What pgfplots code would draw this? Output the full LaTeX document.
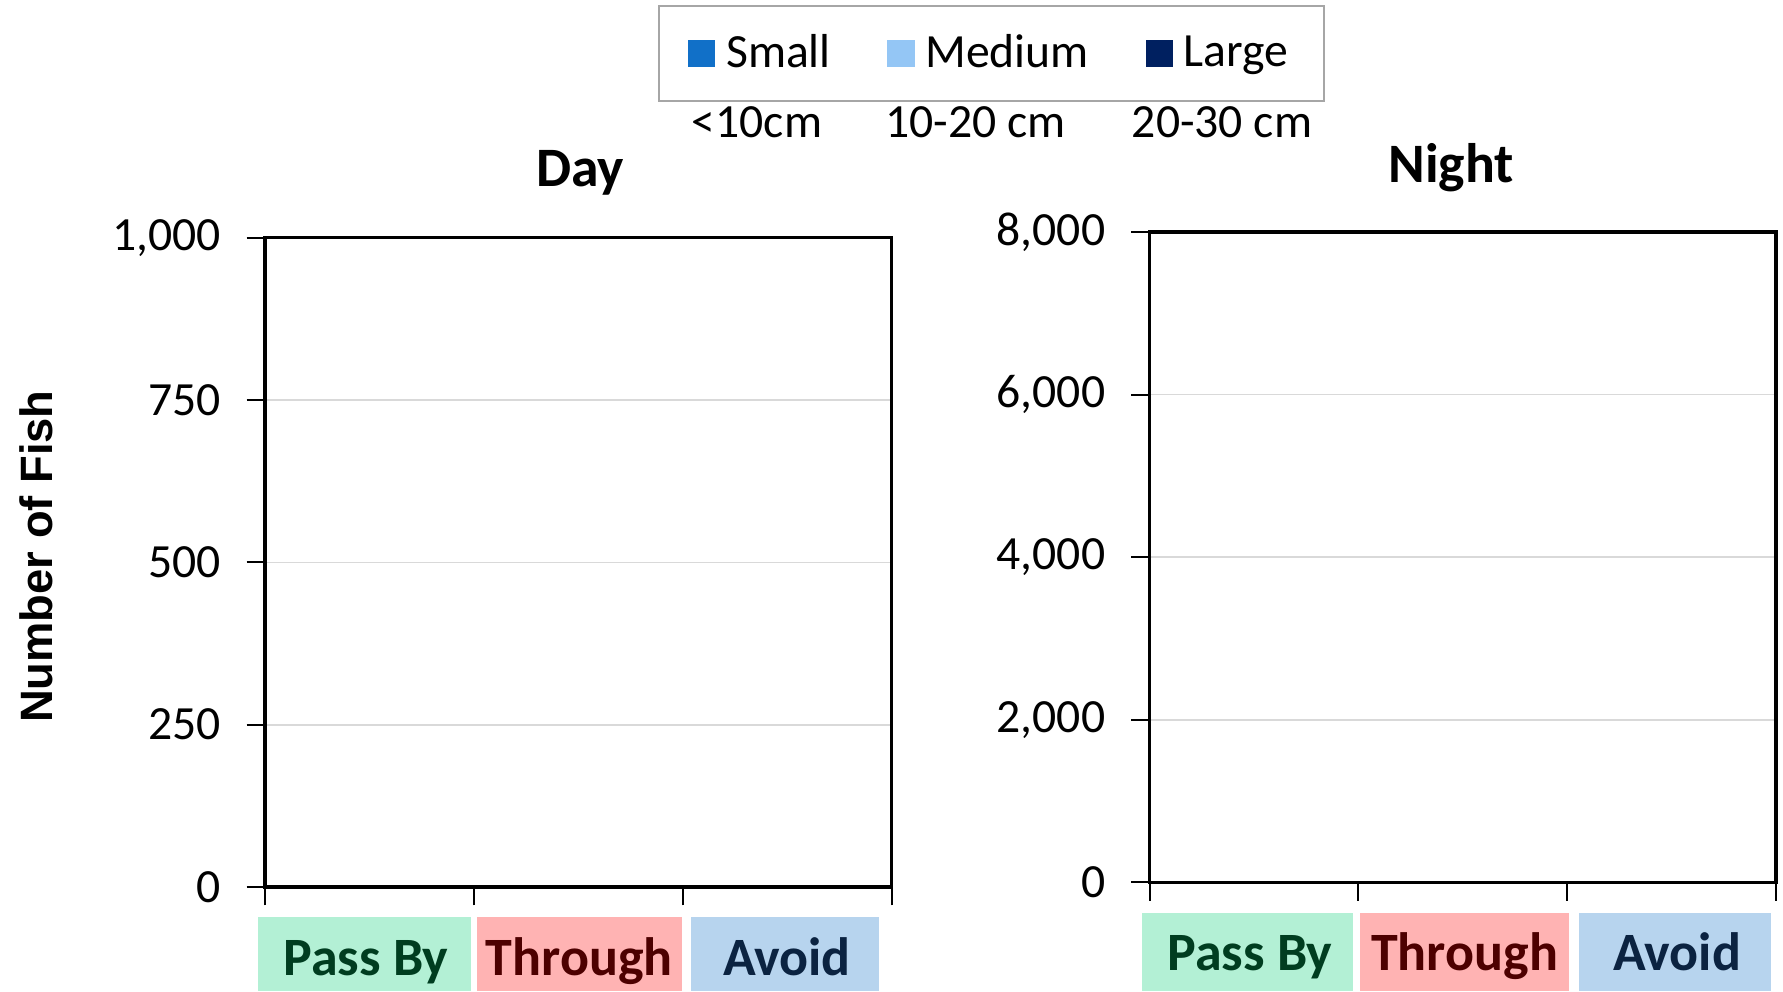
\documentclass[border=0pt]{standalone}
\usepackage{fontspec}
\setmainfont{Carlito}
\newfontfamily\arialfont{Liberation Sans}
\usepackage{pgfplots}
\pgfplotsset{compat=1.18}
\definecolor{smallc}{HTML}{1170C8}
\definecolor{mediumc}{HTML}{94C6F5}
\definecolor{largec}{HTML}{002060}
\definecolor{passbox}{HTML}{B3F0D5}
\definecolor{passtxt}{HTML}{003D20}
\definecolor{thrbox}{HTML}{FFB3B3}
\definecolor{thrtxt}{HTML}{4D0000}
\definecolor{avbox}{HTML}{B7D4EE}
\definecolor{avtxt}{HTML}{0B2341}
\definecolor{lgray}{HTML}{A6A6A6}
\definecolor{gridc}{HTML}{D9D9D9}
\newcommand{\nf}{\fontsize{14.3}{17}\selectfont}
\newcommand{\catf}{\fontsize{16.2}{18}\selectfont\bfseries}
\newcommand{\titf}{\fontsize{16.7}{19}\selectfont\bfseries}
\begin{document}
\begin{tikzpicture}
\path[use as bounding box] (0,0) rectangle (534.9pt,297.3pt);
\pgfplotsset{myaxis/.style={
  anchor=south west, scale only axis,
  xmin=0, xmax=3, ymin=0,
  xtick={0,1,2,3}, xticklabels={},
  tick pos=left, tick align=outside,
  major tick length=5.5pt,
  tick style={black, line width=0.6pt},
  ymajorgrids, grid style={gridc, line width=0.5pt},
  axis line style={black, line width=1.1pt},
  scaled y ticks=false,
  yticklabel style={font=\nf, xshift=-4.3pt,
    /pgf/number format/.cd, 1000 sep={,}, assume math mode=true},
}}
\begin{axis}[myaxis, at={(79.5pt,31.2pt)}, width=187.95pt, height=194.8pt,
  ymax=1000, ytick={0,250,500,750,1000},
  legend columns=3,
  legend image code/.code={\fill[#1] (0pt,-3.75pt) rectangle (7.5pt,3.75pt);},
  legend style={at={(1.1597,1.2835)}, anchor=center, draw=lgray, line width=0.7pt,
    font=\nf, inner xsep=8.7pt, inner ysep=6.5pt,
    /tikz/every odd column/.append style={column sep=1.2pt},
    /tikz/every even column/.append style={column sep=15pt}},
]
\addlegendimage{smallc}
\addlegendentry{Small}
\addlegendimage{mediumc}
\addlegendentry{Medium}
\addlegendimage{largec}
\addlegendentry{Large}
\end{axis}
\begin{axis}[myaxis, at={(344.88pt,32.58pt)}, width=187.92pt, height=195.12pt,
  ymax=8000, ytick={0,2000,4000,6000,8000},
]
\end{axis}
\begin{scope}[x=0.3pt,y=0.3pt]
% size labels
\node[font=\nf, anchor=base] at (757,853.4) {<10cm};
\node[font=\nf, anchor=base] at (975.6,853.4) {10-20 cm};
\node[font=\nf, anchor=base] at (1222,853.4) {20-30 cm};
% titles
\node[font=\titf, anchor=base] at (580,804.5) {Day};
\node[font=\titf, anchor=base] at (1451,808) {Night};
% y label
\node[rotate=90, font=\arialfont\bfseries\fontsize{13.6}{16}\selectfont] at (36.4,434.4) {Number of Fish};
% category boxes: Day
\fill[passbox] (258,0) rectangle (470.8,74.5);
\fill[thrbox] (476.5,0) rectangle (682.3,74.5);
\fill[avbox] (691.4,0) rectangle (879,74.5);
\node[font=\catf, text=passtxt, anchor=base] at (366,16) {Pass By};
\node[font=\catf, text=thrtxt, anchor=base] at (579.4,16) {Through};
\node[font=\catf, text=avtxt, anchor=base] at (787,16) {Avoid};
% category boxes: Night
\fill[passbox] (1141.6,0) rectangle (1353,78);
\fill[thrbox] (1360,0) rectangle (1569,78);
\fill[avbox] (1579.4,0) rectangle (1770.5,78);
\node[font=\catf, text=passtxt, anchor=base] at (1250,21) {Pass By};
\node[font=\catf, text=thrtxt, anchor=base] at (1464.5,21) {Through};
\node[font=\catf, text=avtxt, anchor=base] at (1677,21) {Avoid};
\end{scope}
\end{tikzpicture}
\end{document}
